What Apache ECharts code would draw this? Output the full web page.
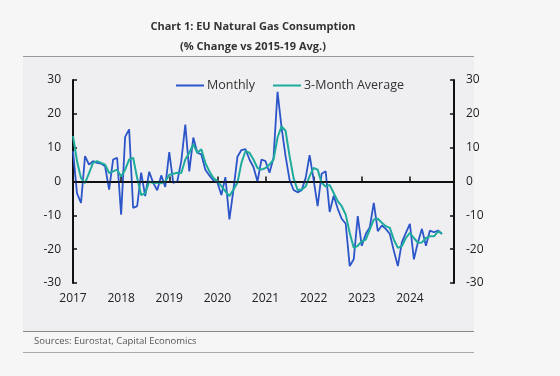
<!DOCTYPE html>
<html>
<head>
<meta charset="utf-8">
<script src="https://cdn.jsdelivr.net/npm/echarts@6/dist/echarts.min.js"></script>
<style>
  html, body { margin: 0; padding: 0; background: #f6f6f6; }
  #chart { width: 560px; height: 376px; }
</style>
</head>
<body>
<div id="chart"></div>
<script>
// months 2017-01 .. 2024-12 (axis runs to end of 2024)
const years = ["2017", "2018", "2019", "2020", "2021", "2022", "2023", "2024"];
const months = [];
years.forEach(y => {
  for (let m = 1; m <= 12; m++) months.push(y + "-" + (m < 10 ? "0" + m : m));
});

// % change vs 2015-19 avg, Jan 2017 .. Sep 2024
const monthly = [
  9, -3.5, -6.3, 7.5, 5, 6, 5.5, 5.3, 4.5, -2.4, 6.5, 7,
  -9.8, 13.2, 15.4, -7.8, -7.3, 2.6, -4.3, 2.9, -0.4, -2.6, 1.8, -1.6,
  8.7, -0.4, 0, 6, 16.8, 3, 13, 8.5, 8, 3.5, 1.8, 0.3,
  -0.3, -4, 1.3, -11.2, -2.5, 7.3, 9.3, 9.6, 6.5, 4.3, 0, 6.5,
  6, 2.6, 7, 26.5, 16, 7.5, 0.5, -2.5, -3.2, -2.6, 1, 7.8,
  0.5, -7.3, 2.3, 3, -9, -4.2, -8, -11, -12.5, -25, -23, -10.2,
  -19, -15.5, -13.5, -6.3, -14.7, -13, -14, -15.5, -20.5, -25, -18, -15.2,
  -12.5, -23, -18, -14, -19, -14.5, -15, -14.5, -15.5
];

const threeMonthAvg = [
  13.4, 6, 1, -0.5, 2.5, 5.5, 6, 5.5, 5, 2.5, 3, 3.5,
  1.5, 3.5, 6.5, 7, 1, -4, -3.5, 0, -0.5, -0.3, -0.5, 0,
  2, 2.3, 2.6, 2.5, 6.5, 8.5, 11, 8.5, 9.5, 5.5, 3, 1,
  0.1, -1.4, -2.9, -4.3, -2.4, -0.4, 5.5, 9, 8.5, 6.5, 4, 3.5,
  4, 5, 6.5, 13, 16.3, 15, 7.5, 1, -2.5, -2.4, -1.5, 1.6,
  4, 3.5, -0.4, -1.5, -1, -3.4, -5.8, -7.3, -9.8, -15.2, -19.6, -19,
  -17.7, -17.2, -14.2, -11.2, -11, -12.2, -13.2, -13.7, -17.2, -19.6, -19.1, -16.7,
  -15.2, -16.7, -18.1, -18, -16.7, -16.2, -16.2, -14.8, -15.3
];

const font = "'Open Sans', 'Noto Sans', sans-serif";

function yAxisCfg(pos) {
  return {
    type: "value",
    position: pos,
    min: -30,
    max: 30,
    interval: 10,
    axisLine: { show: true, lineStyle: { color: "#111", width: 2 } },
    axisTick: { show: true, inside: true, length: 4, lineStyle: { color: "#111", width: 1.5 } },
    axisLabel: { color: "#222", fontSize: 12, fontFamily: font, margin: 12 },
    splitLine: { show: false }
  };
}

const chart = echarts.init(document.getElementById("chart"));
chart.setOption({
  backgroundColor: "#f6f6f6",
  animation: false,
  title: {
    text: "Chart 1: EU Natural Gas Consumption\n(% Change vs 2015-19 Avg.)",
    left: 248,
    textAlign: "center",
    top: 12,
    textStyle: { fontSize: 11, fontWeight: "bold", color: "#333", fontFamily: font, lineHeight: 20 }
  },
  legend: {
    top: 74,
    left: 171,
    itemWidth: 28,
    itemHeight: 2,
    itemGap: 18,
    icon: "rect",
    textStyle: { fontSize: 12.5, color: "#333", fontFamily: font, padding: [0, 0, 0, -2] },
    data: ["Monthly", "3-Month Average"]
  },
  grid: { left: 73, right: 106, top: 80, bottom: 93 },
  xAxis: {
    type: "category",
    data: months,
    boundaryGap: false,
    axisLine: { lineStyle: { color: "#111", width: 2 } },
    axisTick: {
      inside: true, length: 5,
      interval: (i) => i % 12 === 0,
      lineStyle: { color: "#111", width: 1.5 }
    },
    axisLabel: {
      interval: (i) => i % 12 === 0,
      formatter: (v) => v.slice(0, 4),
      color: "#222", fontSize: 12, fontFamily: font, margin: 10
    }
  },
  yAxis: [yAxisCfg("left"), yAxisCfg("right")],
  graphic: [
    { type: "rect", z: -10, shape: { x: 23, y: 57, width: 451, height: 274 }, style: { fill: "#efeff1" } },
    { type: "line", shape: { x1: 23, y1: 56.5, x2: 474, y2: 56.5 }, style: { stroke: "#999", lineWidth: 1 } },
    { type: "line", shape: { x1: 23, y1: 331.5, x2: 474, y2: 331.5 }, style: { stroke: "#888", lineWidth: 1 } },
    { type: "line", shape: { x1: 23, y1: 352.5, x2: 474, y2: 352.5 }, style: { stroke: "#aaa", lineWidth: 1 } },
    {
      type: "text", left: 34, top: 336,
      style: { text: "Sources: Eurostat, Capital Economics", fill: "#555", fontSize: 9.5, fontFamily: font }
    }
  ],
  series: [
    {
      name: "Monthly",
      type: "line",
      data: monthly,
      symbol: "none",
      color: "#2b55c9",
      lineStyle: { width: 1.8 },
      z: 2,
      markLine: {
        silent: true,
        symbol: "none",
        label: { show: false },
        lineStyle: { color: "#111", width: 1.5, type: "solid" },
        data: [{ yAxis: 0 }]
      }
    },
    {
      name: "3-Month Average",
      type: "line",
      data: threeMonthAvg,
      symbol: "none",
      color: "#1eab9c",
      lineStyle: { width: 2 },
      z: 3
    }
  ]
});
</script>
</body>
</html>
